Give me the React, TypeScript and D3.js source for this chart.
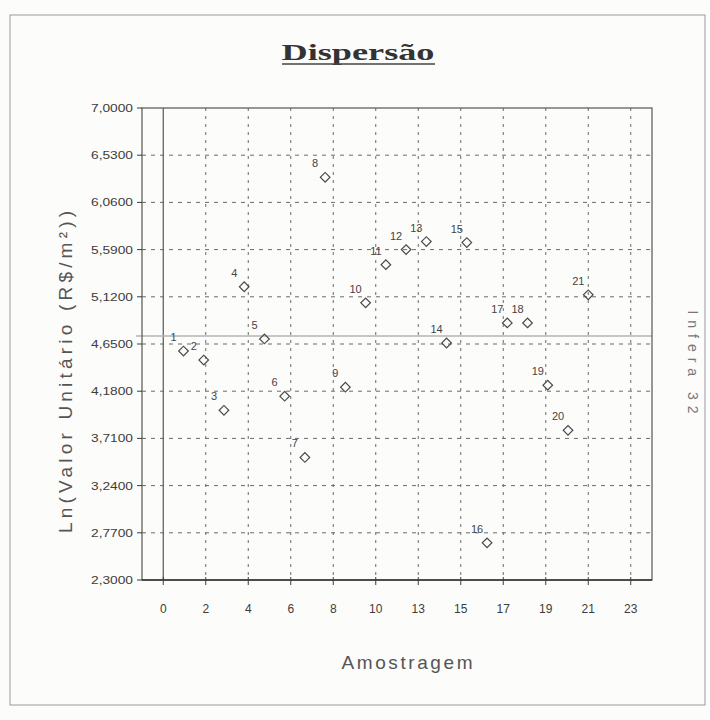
import React from "react";
import * as d3 from "d3";

const sampleIds = [1, 2, 3, 4, 5, 6, 7, 8, 9, 10, 11, 12, 13, 14, 15, 16, 17, 18, 19, 20, 21];
const lnValues = [4.58, 4.49, 3.99, 5.22, 4.70, 4.13, 3.52, 6.31, 4.22, 5.06, 5.44, 5.59, 5.67, 4.66, 5.66, 2.67, 4.86, 4.86, 4.24, 3.79, 5.14];
const pointLabels = ["1", "2", "3", "4", "5", "6", "7", "8", "9", "10", "11", "12", "13", "14", "15", "16", "17", "18", "19", "20", "21"];

const xTickValues = [0, 2.1, 4.2, 6.3, 8.4, 10.5, 12.6, 14.7, 16.8, 18.9, 21.0, 23.1];
const xTickLabels = ["0", "2", "4", "6", "8", "10", "13", "15", "17", "19", "21", "23"];
const yTickValues = [2.3, 2.77, 3.24, 3.71, 4.18, 4.65, 5.12, 5.59, 6.06, 6.53, 7.0];
const yTickLabels = ["2,3000", "2,7700", "3,2400", "3,7100", "4,1800", "4,6500", "5,1200", "5,5900", "6,0600", "6,5300", "7,0000"];
const meanLine = [4.73];

const W = 710;
const H = 720;
const PL = 142, PR = 652, PT = 108, PB = 580;

export default function App() {
  const x = d3.scaleLinear().domain([-1.05, 24.15]).range([PL, PR]);
  const y = d3.scaleLinear().domain([2.3, 7.0]).range([PB, PT]);
  const grid = "#6a6a6a";
  const ink = "#3c3c3c";
  const diamond = d3.symbol().type(d3.symbolSquare).size(46)();

  return (
    <svg
      width={W}
      height={H}
      style={{ position: "absolute", left: 0, top: 0, background: "#fcfcfb" }}
      fontFamily="Liberation Sans, Arial, sans-serif"
    >
      <rect x={0} y={0} width={W} height={H} fill="#fcfcfb" />
      {/* outer frame */}
      <rect x={10} y={15} width={695} height={690} fill="none" stroke="#9a9a9a" strokeWidth={1} />

      {/* title */}
      <text x={358} y={60} textAnchor="middle" fontFamily="Liberation Serif, Times New Roman, serif" fontWeight="bold" fontSize={24} fill="#333" textLength={153} lengthAdjust="spacingAndGlyphs">Dispersão</text>
      <line x1={282} x2={435} y1={64} y2={64} stroke="#444" strokeWidth={1.5} />

      {/* grid */}
      {yTickValues.slice(1, -1).map((v, i) => (
        <line key={"gy" + i} x1={PL} x2={PR} y1={y(v)} y2={y(v)} stroke={grid} strokeWidth={1} strokeDasharray="4,5" />
      ))}
      {xTickValues.slice(1).map((v, i) => (
        <line key={"gx" + i} x1={x(v)} x2={x(v)} y1={PT} y2={PB} stroke={grid} strokeWidth={1} strokeDasharray="3,5" />
      ))}
      {/* x=0 line */}
      <line x1={x(0)} x2={x(0)} y1={PT} y2={PB} stroke="#555" strokeWidth={1.2} />

      {/* mean line */}
      {meanLine.map((v, i) => (
        <line key={"m" + i} x1={PL - 6} x2={PR} y1={y(v)} y2={y(v)} stroke="#b4b4b4" strokeWidth={1.5} />
      ))}

      {/* plot frame */}
      <rect x={PL} y={PT} width={PR - PL} height={PB - PT} fill="none" stroke="#555" strokeWidth={1.2} />
      <line x1={PL} x2={PR} y1={PB} y2={PB} stroke="#333" strokeWidth={1.5} />

      {/* y ticks */}
      {yTickValues.map((v, i) => (
        <g key={"yt" + i}>
          <line x1={PL - 5} x2={PL} y1={y(v)} y2={y(v)} stroke={ink} />
          <text x={133} y={y(v) + 4} textAnchor="end" fontSize={11} fill={ink} textLength={42} lengthAdjust="spacingAndGlyphs">{yTickLabels[i]}</text>
        </g>
      ))}

      {/* x ticks */}
      {xTickValues.map((v, i) => (
        <g key={"xt" + i}>
          <line x1={x(v)} x2={x(v)} y1={PB - 3} y2={PB + 5} stroke={ink} />
          <text x={x(v)} y={613} textAnchor="middle" fontSize={12} fill={ink}>{xTickLabels[i]}</text>
        </g>
      ))}

      {/* axis titles */}
      <text x={407} y={669} textAnchor="middle" fontSize={19} fill="#555" textLength={131} lengthAdjust="spacing">Amostragem</text>
      <text transform="translate(72,372) rotate(-90)" textAnchor="middle" fontSize={19} fill="#555" textLength={322} lengthAdjust="spacing">Ln(Valor Unitário (R$/m²))</text>
      <text transform="translate(688,362) rotate(90)" textAnchor="middle" fontSize={14} fill="#777" textLength={103} lengthAdjust="spacing">Infera 32</text>

      {/* points */}
      {sampleIds.map((id, i) => {
        const cx = x(id);
        const cy = y(lnValues[i]);
        return (
          <g key={"p" + i}>
            <path d={diamond} transform={`translate(${cx},${cy}) rotate(45)`} fill="none" stroke="#4a4a4a" strokeWidth={1.2} />
            <text x={cx - 10} y={cy - 10} textAnchor="middle" fontSize={11} fill="#444">{pointLabels[i]}</text>
          </g>
        );
      })}
    </svg>
  );
}
